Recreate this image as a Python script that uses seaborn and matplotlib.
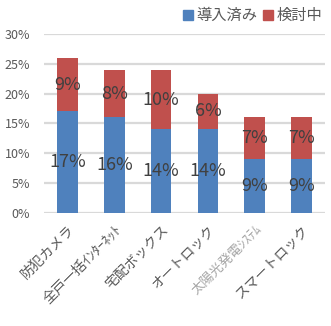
import matplotlib
matplotlib.use("Agg")
import matplotlib.pyplot as plt
import seaborn as sns
import pandas as pd
from matplotlib.patches import Patch

categories = ["防犯カメラ", "全戸一括ｲﾝﾀｰﾈｯﾄ", "宅配ボックス", "オートロック", "太陽光発電ｼｽﾃﾑ", "スマートロック"]
adopted = [17, 16, 14, 14, 9, 9]
considering = [9, 8, 10, 6, 7, 7]
yticks = [0, 5, 10, 15, 20, 25, 30]

sns.set_theme(style="white")
plt.rcParams["font.family"] = ["Noto Sans CJK JP", "DejaVu Sans"]

blue = "#4F81BD"
red = "#C0504D"
text_dark = "#404040"
tick_gray = "#595959"

df = pd.DataFrame({
    "category": categories,
    "adopted": adopted,
    "considering": considering,
})
df["total"] = df["adopted"] + df["considering"]

fig = plt.figure(figsize=(3.31, 3.26), dpi=100)
ax = fig.add_axes([0.133, 0.347, 0.849, 0.549])

sns.barplot(data=df, x="category", y="total", color=red, width=0.44,
            saturation=1, linewidth=0, ax=ax, zorder=3)
sns.barplot(data=df, x="category", y="adopted", color=blue, width=0.44,
            saturation=1, linewidth=0, ax=ax, zorder=4)

# segment value labels
for i, (a, c) in enumerate(zip(adopted, considering)):
    ax.text(i, a / 2, f"{a}%", ha="center", va="center", fontsize=13,
            color=text_dark, zorder=5)
    ax.text(i, a + c / 2, f"{c}%", ha="center", va="center", fontsize=13,
            color=text_dark, zorder=5)

ax.set_ylim(0, 30)
ax.set_xlim(-0.5, len(categories) - 0.5)
ax.set_yticks(yticks)
ax.set_yticklabels([f"{v}%" for v in yticks], fontsize=9, color=tick_gray)
ax.yaxis.grid(True, color="#D9D9D9", linewidth=1.6, zorder=0)
ax.set_axisbelow(True)
ax.set_xlabel("")
ax.set_ylabel("")
for s in ax.spines.values():
    s.set_visible(False)
ax.tick_params(axis="y", length=0, pad=10)
ax.tick_params(axis="x", length=0, pad=7)

ax.set_xticks(range(len(categories)))
ax.set_xticklabels(categories, rotation=45, ha="right", rotation_mode="anchor",
                   fontsize=10, color=tick_gray)
for lbl in ax.get_xticklabels():
    if lbl.get_text() == "太陽光発電ｼｽﾃﾑ":
        lbl.set_fontsize(9.5)
        lbl.set_color("#A6A6A6")

handles = [Patch(color=blue, label="導入済み"), Patch(color=red, label="検討中")]
fig.legend(handles=handles, loc="upper right", bbox_to_anchor=(1.015, 1.02),
           ncol=2, frameon=False, fontsize=11, handlelength=0.6,
           handleheight=0.6, handletextpad=0.25, columnspacing=0.4,
           labelcolor=tick_gray)

fig.savefig("out.png", dpi=100)
